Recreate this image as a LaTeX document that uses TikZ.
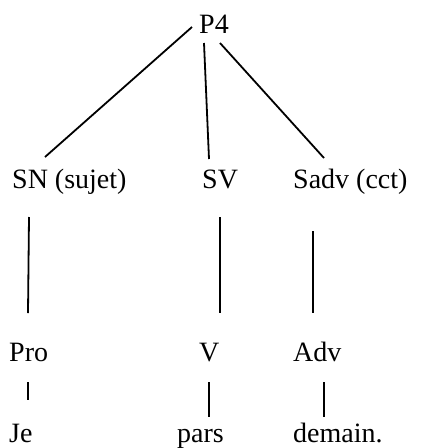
\documentclass[tikz,border=0pt]{standalone}
\usepackage{fontspec}
\setmainfont{Liberation Serif}
\begin{document}
\begin{tikzpicture}[x=1pt,y=-1pt,
  lbl/.style={anchor=base west,inner sep=0pt,font=\fontsize{28}{34}\selectfont},
  edge/.style={line width=1.8pt}]
\useasboundingbox (0,0) rectangle (425,448);
% labels
\node[lbl] (p4)   at (199,33)  {P4};
\node[lbl] (sn)   at (12,188)  {SN (sujet)};
\node[lbl] (sv)   at (202,188) {SV};
\node[lbl] (sadv) at (293,188) {Sadv (cct)};
\node[lbl] (pro)  at (9,361)   {Pro};
\node[lbl] (v)    at (199,361) {V};
\node[lbl] (adv)  at (293,361) {Adv};
\node[lbl] (je)   at (9,442)   {Je};
\node[lbl] (pars) at (177,442) {pars};
\node[lbl] (dem)  at (293,442) {demain.};
% branch end points
\coordinate (p4a) at (192,27);
\coordinate (p4b) at (204,43);
\coordinate (p4c) at (220,43);
\coordinate (sntop) at (45,157);
\coordinate (svtop) at (209,159);
\coordinate (sadvtop) at (324,158);
\coordinate (snb) at (29,217);
\coordinate (prot) at (28,313);
\coordinate (svb) at (220,217);
\coordinate (vt) at (220,313);
\coordinate (sadvb) at (313,231);
\coordinate (advt) at (313,313);
\coordinate (prob) at (28,382);
\coordinate (jet) at (28,400);
\coordinate (vb) at (209,382);
\coordinate (parst) at (209,417);
\coordinate (advb) at (324,382);
\coordinate (demt) at (324,417);
% connectors
\draw[edge] (p4a) -- (sntop);
\draw[edge] (p4b) -- (svtop);
\draw[edge] (p4c) -- (sadvtop);
\draw[edge] (snb) -- (prot);
\draw[edge] (svb) -- (vt);
\draw[edge] (sadvb) -- (advt);
\draw[edge] (prob) -- (jet);
\draw[edge] (vb) -- (parst);
\draw[edge] (advb) -- (demt);
\end{tikzpicture}
\end{document}
